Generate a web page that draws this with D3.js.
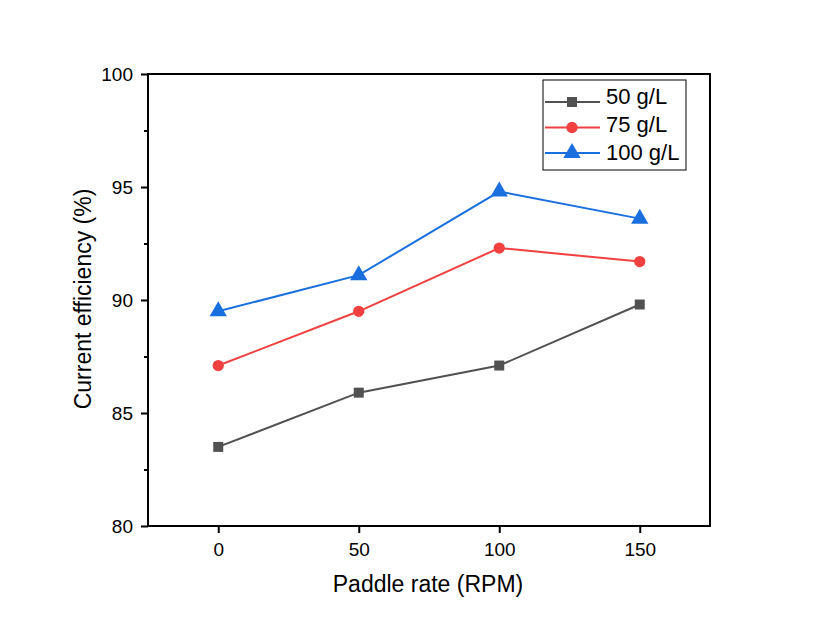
<!DOCTYPE html>
<html><head><meta charset="utf-8">
<script src="https://cdn.jsdelivr.net/npm/d3@7"></script>
<style>body{margin:0;background:#fff}svg{display:block}text{font-family:"Liberation Sans",Arial,sans-serif}</style>
</head><body>
<svg id="c" width="828" height="634"></svg>
<script>
const rpm = [0, 50, 100, 150];
const seriesNames = ["50 g/L", "75 g/L", "100 g/L"];
const s50 = [83.5, 85.9, 87.1, 89.8];
const s75 = [87.1, 89.5, 92.3, 91.7];
const s100 = [89.5, 91.1, 94.8, 93.6];
const xTicks = [0, 50, 100, 150];
const yTicks = [80, 85, 90, 95, 100];
const yMinor = [82.5, 87.5, 92.5, 97.5];
const colors = ["#515151", "#F14040", "#1A6FDF"];
const symbols = [d3.symbolSquare, d3.symbolCircle, d3.symbolTriangle];

const svg = d3.select("#c");
const L = 148, R = 710, T = 74, B = 526;
const x = d3.scaleLinear().domain([-25, 175]).range([L, R]);
const y = d3.scaleLinear().domain([80, 100]).range([B, T]);

svg.append("rect").attr("x", L).attr("y", T).attr("width", R - L).attr("height", B - T)
  .attr("fill", "none").attr("stroke", "#000").attr("stroke-width", 2);

const xAxis = d3.axisBottom(x).tickValues(xTicks).tickSize(7).tickPadding(10);
const gx = svg.append("g").attr("transform", `translate(0,${B})`).call(xAxis);
const yAxis = d3.axisLeft(y).tickValues(yTicks).tickSize(7).tickPadding(8);
const gy = svg.append("g").attr("transform", `translate(${L},0)`).call(yAxis);
const yAxisMinor = d3.axisLeft(y).tickValues(yMinor).tickSize(4).tickFormat("");
const gym = svg.append("g").attr("transform", `translate(${L},0)`).call(yAxisMinor);
[gx, gy, gym].forEach(g => {
  g.select(".domain").remove();
  g.selectAll(".tick line").attr("stroke", "#000").attr("stroke-width", 2);
  g.selectAll(".tick text").attr("fill", "#000").style("font-size", "19px");
});

const data = [s50, s75, s100];
const sizes = [100, 100, 130];
const line = d3.line().x((d, i) => x(rpm[i])).y(d => y(d));
data.forEach((vals, k) => {
  svg.append("path").datum(vals).attr("d", line)
    .attr("fill", "none").attr("stroke", colors[k]).attr("stroke-width", 2);
  svg.selectAll(null).data(vals).enter().append("path")
    .attr("d", d3.symbol().type(symbols[k]).size(sizes[k]))
    .attr("transform", (d, i) => `translate(${x(rpm[i])},${y(d)})`)
    .attr("fill", colors[k]);
});

svg.append("text").attr("x", 428).attr("y", 592).attr("text-anchor", "middle")
  .style("font-size", "23px").attr("fill", "#000").text("Paddle rate (RPM)");
svg.append("text").attr("transform", "translate(91,299) rotate(-90)").attr("text-anchor", "middle")
  .style("font-size", "23px").attr("fill", "#000").text("Current efficiency (%)");

const lg = svg.append("g");
lg.append("rect").attr("x", 543).attr("y", 80).attr("width", 143).attr("height", 90)
  .attr("fill", "#fff").attr("stroke", "#000").attr("stroke-width", 1);
const rowY = [102, 127.5, 153];
const textY = [104, 132, 160];
seriesNames.forEach((n, k) => {
  const yy = rowY[k];
  lg.append("line").attr("x1", 545).attr("x2", 600).attr("y1", yy).attr("y2", yy)
    .attr("stroke", colors[k]).attr("stroke-width", 2);
  lg.append("path").attr("d", d3.symbol().type(symbols[k]).size(sizes[k]))
    .attr("transform", `translate(572,${yy})`).attr("fill", colors[k]);
  lg.append("text").attr("x", 606).attr("y", textY[k]).style("font-size", "22px")
    .attr("fill", "#000").text(n);
});
</script>
</body></html>
